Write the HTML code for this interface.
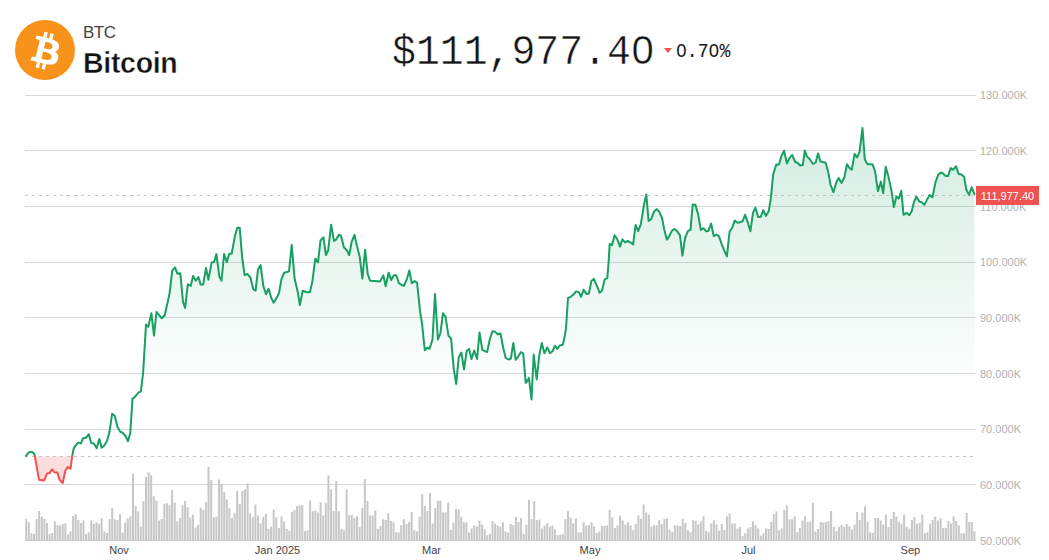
<!DOCTYPE html>
<html><head><meta charset="utf-8"><title>Bitcoin</title>
<style>
html,body{margin:0;padding:0;background:#fff;}
body{width:1049px;height:560px;position:relative;overflow:hidden;font-family:"Liberation Sans",sans-serif;}
.chart{position:absolute;left:0;top:0;}
.logo{position:absolute;left:15px;top:20px;width:60px;height:60px;}
.sym{position:absolute;left:83px;top:23px;font-size:17px;letter-spacing:-0.5px;color:#444;line-height:20px;}
.name{position:absolute;left:83px;top:46px;font-size:28.5px;font-weight:bold;color:#111;line-height:34px;letter-spacing:-0.3px;transform:scaleY(1.035);transform-origin:0 27px;-webkit-text-stroke:0.4px #fff;}
.price{position:absolute;left:392px;top:29px;font-family:"Liberation Mono",monospace;font-size:39.8px;color:#151515;line-height:46px;white-space:nowrap;-webkit-text-stroke:0.45px #fff;transform:scaleY(1.06);transform-origin:0 0;}
.tri{position:absolute;left:664px;top:48px;width:0;height:0;border-left:4px solid transparent;border-right:4px solid transparent;border-top:5.5px solid #ef5350;}
.pct{position:absolute;left:676px;top:40px;font-family:"Liberation Mono",monospace;font-size:18.1px;color:#151515;line-height:22px;white-space:nowrap;transform:scaleY(1.09);transform-origin:0 0;}
.yl{position:absolute;left:980px;font-size:11px;line-height:14px;color:#b2b2b2;white-space:nowrap;}
.xl{position:absolute;top:543px;width:80px;text-align:center;font-size:11px;line-height:14px;color:#444;white-space:nowrap;}
.m{position:absolute;background:#fff;}
.tag{position:absolute;left:976px;top:186px;width:63px;height:19px;background:#ef5350;color:#fff;font-size:11px;line-height:21px;text-align:center;overflow:hidden;}
</style></head><body>
<svg class="chart" width="1049" height="560" viewBox="0 0 1049 560">
<defs><linearGradient id="gg" gradientUnits="userSpaceOnUse" x1="0" y1="95" x2="0" y2="392"><stop offset="0" stop-color="#149c5c" stop-opacity="0.215"/><stop offset="1" stop-color="#149c5c" stop-opacity="0"/></linearGradient><linearGradient id="rg" gradientUnits="userSpaceOnUse" x1="0" y1="456" x2="0" y2="485"><stop offset="0" stop-color="#ef5350" stop-opacity="0.18"/><stop offset="1" stop-color="#ef5350" stop-opacity="0.22"/></linearGradient></defs>
<path d="M25 95.5 H976 M25 150.5 H976 M25 206.5 H976 M25 262.5 H976 M25 317.5 H976 M25 373.5 H976 M25 429.5 H976 M25 484.5 H976 M25 540.5 H976" stroke="#d8d8d8" stroke-width="1" fill="none"/>
<path d="M26.1 455.9 L28.5 452.6 L30.4 451.9 L32.5 452.3 L34.1 453.8 L34.8 456 L34.9 456.5 L34.9 456.5 L26.1 456.5 Z M72.1 456.5 L72.2 456 L73.8 448.2 L77.5 443.1 L79.1 442.6 L81 443.4 L83.1 438.2 L85.9 437.8 L88.8 434.2 L91.2 443.1 L93.9 443.4 L96.7 448.3 L99.3 439 L101.6 447.8 L104.1 445.7 L107 440.9 L109.5 431.8 L112.1 413.8 L114.8 415.7 L117.5 427 L120.2 431.8 L122.8 432.8 L125.5 436 L128 441.2 L130.3 432.8 L132.5 398.6 L134.4 397.3 L135.7 395.9 L138.4 392.7 L140.9 391.4 L143.1 372.9 L146 324.6 L148.2 326.8 L151.4 313.2 L154 335.6 L156.5 311.9 L161.8 318.3 L164.7 315.3 L169.5 293.9 L172.2 270.6 L175 267.4 L177.5 273.8 L180.3 273.3 L183 301.9 L185.1 308 L187.8 284.3 L190.7 285.9 L193.1 275.9 L195.8 280.7 L198.4 277 L200.7 284.6 L203.2 284.6 L206 267.9 L208.4 279.8 L211.6 262.6 L214 262.1 L216.4 254.1 L219.3 276.2 L221.5 280.7 L224.1 254.1 L226.8 262.1 L229.3 253.7 L231.7 253.7 L234.9 236.1 L237.3 227.7 L239.7 227.7 L242.2 258 L244.6 275.2 L247.2 273.8 L250.4 277.5 L253.2 289.1 L255.6 290.7 L258 269.5 L260.6 265 L263.3 285.9 L266 294.2 L268.6 288.8 L271.3 297.9 L273.7 302.7 L276.1 298.7 L279 293.1 L281.4 279.4 L284.2 272.7 L289 271.4 L291.7 244.9 L294.6 278.6 L297.5 290.7 L299.9 305.1 L302.7 290.7 L306.7 292.3 L309.9 292.3 L312.3 281.8 L315.3 258.6 L318 262.4 L320.5 240.5 L323.4 237.3 L325.9 255 L328.2 250.2 L331.1 224.8 L334 240.9 L336.2 239.6 L338.8 234.8 L341 235.7 L343.9 247.3 L346.8 250.2 L349.2 255 L351.6 242.2 L354.4 234.8 L357.1 246.5 L359.7 256.6 L362.4 278.6 L365.1 249.7 L367.7 273.8 L370.1 280.7 L374.8 281 L380.1 281.4 L383.3 275.4 L385.7 286.2 L388.6 272.7 L391.2 280.1 L393.8 275.3 L396.3 275.2 L398.9 283.2 L401.6 285 L403.9 285.9 L407 278.8 L409.3 270.4 L411.8 283.2 L414.6 281.1 L417.1 282.9 L420 310.9 L422.1 324.3 L424.8 350.2 L427.5 347.5 L429.6 348.8 L432.5 339.5 L435 293.9 L437.9 339.5 L440.4 333.2 L443 313.2 L445.5 316.8 L448.5 335.8 L451.1 338.6 L453.8 369.4 L456.2 383.9 L458.7 357.4 L461.4 352.6 L464 369.4 L466.7 351 L469.1 348.9 L471.5 359 L474.2 350.5 L477.1 359 L479.5 332.5 L482.3 349.8 L487.1 352.1 L489.7 339.7 L492.4 331.2 L495.1 331.7 L498 334.4 L500.4 333.3 L503.2 347.8 L505.7 357.9 L508.5 359.5 L510.9 358.5 L513.3 342.9 L515.7 359.8 L518.6 355.8 L521 352 L523.2 353.3 L525.7 382.8 L527.3 380.8 L528.9 377.9 L531.5 399.5 L533.7 354.5 L536.7 379.5 L539.2 355.7 L541.8 342.9 L544.4 353.2 L547.3 347.4 L549.9 353.2 L552.5 351.2 L555.1 345.7 L557.3 349 L559.8 345.4 L562.8 344.8 L564.8 336 L566 328 L568 298 L570.7 296.8 L573.4 294.5 L576.1 291.4 L578.8 292.1 L581.1 296.8 L583.6 289.6 L586.4 293.9 L588.9 293.6 L591.3 281.1 L593.9 278.9 L597.1 286.4 L599.6 292.7 L602 290.9 L604.6 279.6 L607.3 277.9 L608.6 262 L609.7 244 L612 245.2 L614.6 235.3 L617.3 239.3 L620 246.6 L622.4 239.3 L625.1 242.4 L627.8 241 L630.7 242.6 L633.1 244.6 L635.6 224.9 L638.2 231.2 L640.9 223.9 L643.9 205.1 L646.3 194.4 L648.6 220.9 L651.2 219.2 L653.9 211.8 L656.6 209.1 L659.3 211.8 L662 217.8 L664.2 229.2 L666.9 239.7 L669.3 235.9 L672 230.6 L674.4 229 L676.7 230.6 L680 235.4 L682.4 255.6 L685.1 238 L688 230.9 L690.5 229.9 L692.7 204.5 L695.4 204.7 L698.1 214.1 L700.8 229.9 L703.5 228.2 L706.1 231.3 L708.4 230.9 L711.1 223.5 L713.8 236.2 L716.4 234.5 L718.9 236.2 L721.5 243.6 L724.2 250.3 L726.9 256.3 L729.6 231.5 L732.3 227.5 L734.7 220.6 L737.6 222.8 L740 222.2 L742.7 221.1 L745 214.8 L747.7 222.2 L750.4 231.3 L753 212.8 L755.3 207.6 L758.2 217.1 L760.8 216.7 L763.3 210.1 L765.9 215.9 L768.7 211.3 L770.9 197.7 L773.2 174.2 L776.3 164.6 L779 164.6 L781.1 157 L784.1 150.6 L786.9 163.5 L789.6 157.9 L792.2 154.9 L795.2 162 L797.5 162.8 L800.2 165.5 L802.8 165 L804.8 150.6 L806.9 156.4 L809.6 159 L813 164 L815.7 162.5 L818 153.4 L820.6 161.6 L823 162 L825.6 162.8 L828.2 171.9 L830.6 185 L833.4 192.1 L836.3 182.5 L838.6 178 L841.6 182.9 L844.3 177.5 L847 164.3 L849.6 168.2 L851.8 169.6 L854.6 153.9 L857.1 157.5 L859.5 151.8 L862.5 128 L864.8 159.6 L867.5 164.3 L872.5 164.3 L875 170.9 L877.9 191.1 L880.9 181.6 L883.2 193.2 L885.7 166.8 L888.6 177.1 L891.6 191.4 L893.9 207.1 L896.4 196.4 L898.8 198.6 L901.3 190.8 L903.6 214.8 L906.6 212.8 L909.3 215.2 L911.8 211 L914.1 201.6 L916.3 196.6 L919.4 201.6 L921.7 202.3 L924.4 204.9 L927.1 199.6 L929.7 194.9 L932.4 197.2 L935.5 182.2 L938.2 174.8 L940.9 172.5 L943.1 173.5 L945.8 176.1 L948 176.1 L950.7 168.1 L952.9 169.8 L956 166.3 L958.7 174.1 L961.4 174.4 L964.1 176.8 L966.3 189.5 L969 194.9 L971.7 187.3 L974.4 194.2 L974.4 456.5 L72.1 456.5 Z" fill="url(#gg)"/>
<path d="M34.9 456.5 L39 479.8 L44.1 480.6 L47 473.6 L49.7 473.1 L52.1 469.4 L54.5 472.3 L57.4 472.6 L59.4 479.5 L62.6 483.2 L65.3 470.7 L67.9 467.1 L70.6 468.8 L72.1 456.5 L72.1 456.5 L34.9 456.5 Z" fill="url(#rg)"/>
<path d="M25 456.5 H974" stroke="#c4c4c4" stroke-width="1" stroke-dasharray="3 4" fill="none"/>
<path d="M25 195.5 H976" stroke="#c4c4c4" stroke-width="1" stroke-dasharray="3 4" fill="none"/>
<path d="M25.2 519.1 h2 v21.9 h-2Z M27.8 522.3 h2 v18.7 h-2Z M30.4 533.3 h2 v7.7 h-2Z M33 533.7 h2 v7.3 h-2Z M35.6 519.1 h2 v21.9 h-2Z M38.2 511.1 h2 v29.9 h-2Z M40.8 516.7 h2 v24.3 h-2Z M43.4 519.1 h2 v21.9 h-2Z M46 523.1 h2 v17.9 h-2Z M48.6 534.1 h2 v6.9 h-2Z M51.2 533.1 h2 v7.9 h-2Z M53.9 521.3 h2 v19.7 h-2Z M56.5 525.1 h2 v15.9 h-2Z M59.1 525.5 h2 v15.5 h-2Z M61.7 523.9 h2 v17.1 h-2Z M64.3 523.5 h2 v17.5 h-2Z M66.9 534.4 h2 v6.6 h-2Z M69.5 531.5 h2 v9.5 h-2Z M72.1 516.1 h2 v24.9 h-2Z M74.7 514.1 h2 v26.9 h-2Z M77.3 520 h2 v21 h-2Z M79.9 523 h2 v18 h-2Z M82.5 520.5 h2 v20.5 h-2Z M85.1 534.1 h2 v6.9 h-2Z M87.7 532.2 h2 v8.8 h-2Z M90.3 520.5 h2 v20.5 h-2Z M92.9 523.8 h2 v17.2 h-2Z M95.5 522.3 h2 v18.7 h-2Z M98.1 523.8 h2 v17.2 h-2Z M100.7 518.2 h2 v22.8 h-2Z M103.4 531.4 h2 v9.6 h-2Z M106 532.9 h2 v8.1 h-2Z M108.6 519.2 h2 v21.8 h-2Z M111.2 508.3 h2 v32.7 h-2Z M113.8 519.2 h2 v21.8 h-2Z M116.4 520 h2 v21 h-2Z M119 514.2 h2 v26.8 h-2Z M121.6 532.6 h2 v8.4 h-2Z M124.2 522.6 h2 v18.4 h-2Z M126.8 518.5 h2 v22.5 h-2Z M129.4 516.5 h2 v24.5 h-2Z M132 473.4 h2 v67.6 h-2Z M134.6 506.3 h2 v34.7 h-2Z M137.2 511.6 h2 v29.4 h-2Z M139.8 526.8 h2 v14.2 h-2Z M142.4 501.3 h2 v39.7 h-2Z M145 477 h2 v64 h-2Z M147.6 472.2 h2 v68.8 h-2Z M150.2 475.2 h2 v65.8 h-2Z M152.8 496.2 h2 v44.8 h-2Z M155.4 500.7 h2 v40.3 h-2Z M158.1 520.5 h2 v20.5 h-2Z M160.7 518.9 h2 v22.1 h-2Z M163.3 503.7 h2 v37.3 h-2Z M165.9 503.3 h2 v37.7 h-2Z M168.5 505.3 h2 v35.7 h-2Z M171.1 490.1 h2 v50.9 h-2Z M173.7 502.5 h2 v38.5 h-2Z M176.3 521.5 h2 v19.5 h-2Z M178.9 518 h2 v23 h-2Z M181.5 505.3 h2 v35.7 h-2Z M184.1 501 h2 v40 h-2Z M186.7 506.9 h2 v34.1 h-2Z M189.3 517.4 h2 v23.6 h-2Z M191.9 514.4 h2 v26.6 h-2Z M194.5 527.6 h2 v13.4 h-2Z M197.1 525 h2 v16 h-2Z M199.7 507.4 h2 v33.6 h-2Z M202.3 509.8 h2 v31.2 h-2Z M204.9 502.2 h2 v38.8 h-2Z M207.5 466.8 h2 v74.2 h-2Z M210.2 480.1 h2 v60.9 h-2Z M212.8 517.4 h2 v23.6 h-2Z M215.4 516.5 h2 v24.5 h-2Z M218 479.4 h2 v61.6 h-2Z M220.6 484 h2 v57 h-2Z M223.2 492.2 h2 v48.8 h-2Z M225.8 499.5 h2 v41.5 h-2Z M228.4 508.3 h2 v32.7 h-2Z M231 518 h2 v23 h-2Z M233.6 513.2 h2 v27.8 h-2Z M236.2 490.7 h2 v50.3 h-2Z M238.8 504.1 h2 v36.9 h-2Z M241.4 491.1 h2 v49.9 h-2Z M244 489.2 h2 v51.8 h-2Z M246.6 483.5 h2 v57.5 h-2Z M249.2 513.2 h2 v27.8 h-2Z M251.8 517.4 h2 v23.6 h-2Z M254.4 504.4 h2 v36.6 h-2Z M257 515.4 h2 v25.6 h-2Z M259.6 523.5 h2 v17.5 h-2Z M262.3 517 h2 v24 h-2Z M264.9 513.9 h2 v27.1 h-2Z M267.5 529.1 h2 v11.9 h-2Z M270.1 526.5 h2 v14.5 h-2Z M272.7 509.4 h2 v31.6 h-2Z M275.3 517.4 h2 v23.6 h-2Z M277.9 528.1 h2 v12.9 h-2Z M280.5 516.2 h2 v24.8 h-2Z M283.1 521.5 h2 v19.5 h-2Z M285.7 529.1 h2 v11.9 h-2Z M288.3 530.6 h2 v10.4 h-2Z M290.9 512 h2 v29 h-2Z M293.5 510.1 h2 v30.9 h-2Z M296.1 505.9 h2 v35.1 h-2Z M298.7 505.3 h2 v35.7 h-2Z M301.3 505.3 h2 v35.7 h-2Z M303.9 531.1 h2 v9.9 h-2Z M306.5 530.2 h2 v10.8 h-2Z M309.1 500.3 h2 v40.7 h-2Z M311.8 511.3 h2 v29.7 h-2Z M314.4 510.4 h2 v30.6 h-2Z M317 512.4 h2 v28.6 h-2Z M319.6 502.2 h2 v38.8 h-2Z M322.2 515.4 h2 v25.6 h-2Z M324.8 502.8 h2 v38.2 h-2Z M327.4 475.5 h2 v65.5 h-2Z M330 489.6 h2 v51.4 h-2Z M332.6 510.9 h2 v30.1 h-2Z M335.2 481 h2 v60 h-2Z M337.8 511.3 h2 v29.7 h-2Z M340.4 529.1 h2 v11.9 h-2Z M343 530.2 h2 v10.8 h-2Z M345.6 489.6 h2 v51.4 h-2Z M348.2 515 h2 v26 h-2Z M350.8 514.7 h2 v26.3 h-2Z M353.4 518 h2 v23 h-2Z M356 516.2 h2 v24.8 h-2Z M358.6 527.1 h2 v13.9 h-2Z M361.2 508.3 h2 v32.7 h-2Z M363.8 479 h2 v62 h-2Z M366.5 501 h2 v40 h-2Z M369.1 515.4 h2 v25.6 h-2Z M371.7 515.4 h2 v25.6 h-2Z M374.3 510.4 h2 v30.6 h-2Z M376.9 529.1 h2 v11.9 h-2Z M379.5 526.1 h2 v14.9 h-2Z M382.1 519.2 h2 v21.8 h-2Z M384.7 520 h2 v21 h-2Z M387.3 513.2 h2 v27.8 h-2Z M389.9 521.1 h2 v19.9 h-2Z M392.5 522.3 h2 v18.7 h-2Z M395.1 532.2 h2 v8.8 h-2Z M397.7 532.2 h2 v8.8 h-2Z M400.3 525 h2 v16 h-2Z M402.9 519.2 h2 v21.8 h-2Z M405.5 524.1 h2 v16.9 h-2Z M408.1 522 h2 v19 h-2Z M410.7 512 h2 v29 h-2Z M413.3 530.2 h2 v10.8 h-2Z M415.9 531.4 h2 v9.6 h-2Z M418.6 516.5 h2 v24.5 h-2Z M421.2 494.2 h2 v46.8 h-2Z M423.8 505.9 h2 v35.1 h-2Z M426.4 510.9 h2 v30.1 h-2Z M429 492.7 h2 v48.3 h-2Z M431.6 523.5 h2 v17.5 h-2Z M434.2 508.3 h2 v32.7 h-2Z M436.8 500.7 h2 v40.3 h-2Z M439.4 500.7 h2 v40.3 h-2Z M442 512.4 h2 v28.6 h-2Z M444.6 512.4 h2 v28.6 h-2Z M447.2 502.5 h2 v38.5 h-2Z M449.8 529.9 h2 v11.1 h-2Z M452.4 522.6 h2 v18.4 h-2Z M455 508.9 h2 v32.1 h-2Z M457.6 509.4 h2 v31.6 h-2Z M460.2 517 h2 v24 h-2Z M462.8 522.3 h2 v18.7 h-2Z M465.4 522.3 h2 v18.7 h-2Z M468.1 532.6 h2 v8.4 h-2Z M470.7 528.4 h2 v12.6 h-2Z M473.3 525.6 h2 v15.4 h-2Z M475.9 526.5 h2 v14.5 h-2Z M478.5 520.8 h2 v20.2 h-2Z M481.1 524.6 h2 v16.4 h-2Z M483.7 529.6 h2 v11.4 h-2Z M486.3 535.2 h2 v5.8 h-2Z M488.9 533.7 h2 v7.3 h-2Z M491.5 521.1 h2 v19.9 h-2Z M494.1 523.5 h2 v17.5 h-2Z M496.7 525.6 h2 v15.4 h-2Z M499.3 526.8 h2 v14.2 h-2Z M501.9 522 h2 v19 h-2Z M504.5 531.4 h2 v9.6 h-2Z M507.1 532.6 h2 v8.4 h-2Z M509.7 524.1 h2 v16.9 h-2Z M512.3 525 h2 v16 h-2Z M514.9 517 h2 v24 h-2Z M517.5 522 h2 v19 h-2Z M520.1 518 h2 v23 h-2Z M522.8 533.7 h2 v7.3 h-2Z M525.4 524.6 h2 v16.4 h-2Z M528 499.8 h2 v41.2 h-2Z M530.6 518.9 h2 v22.1 h-2Z M533.2 501.3 h2 v39.7 h-2Z M535.8 520 h2 v21 h-2Z M538.4 519.5 h2 v21.5 h-2Z M541 528.4 h2 v12.6 h-2Z M543.6 525.6 h2 v15.4 h-2Z M546.2 523 h2 v18 h-2Z M548.8 526.5 h2 v14.5 h-2Z M551.4 525.6 h2 v15.4 h-2Z M554 529.6 h2 v11.4 h-2Z M556.6 535.2 h2 v5.8 h-2Z M559.2 534.7 h2 v6.3 h-2Z M561.8 534.1 h2 v6.9 h-2Z M564.4 519.2 h2 v21.8 h-2Z M567 510.9 h2 v30.1 h-2Z M569.6 517.4 h2 v23.6 h-2Z M572.2 523.5 h2 v17.5 h-2Z M574.9 518.5 h2 v22.5 h-2Z M577.5 532.2 h2 v8.8 h-2Z M580.1 532.2 h2 v8.8 h-2Z M582.7 522.3 h2 v18.7 h-2Z M585.3 525.6 h2 v15.4 h-2Z M587.9 525.3 h2 v15.7 h-2Z M590.5 522.3 h2 v18.7 h-2Z M593.1 526.5 h2 v14.5 h-2Z M595.7 532.9 h2 v8.1 h-2Z M598.3 531.4 h2 v9.6 h-2Z M600.9 526.1 h2 v14.9 h-2Z M603.5 526.1 h2 v14.9 h-2Z M606.1 525.3 h2 v15.7 h-2Z M608.7 509.8 h2 v31.2 h-2Z M611.3 517.4 h2 v23.6 h-2Z M613.9 528.1 h2 v12.9 h-2Z M616.5 525.6 h2 v15.4 h-2Z M619.1 515.4 h2 v25.6 h-2Z M621.7 520.5 h2 v20.5 h-2Z M624.4 524.6 h2 v16.4 h-2Z M627 522.3 h2 v18.7 h-2Z M629.6 525.6 h2 v15.4 h-2Z M632.2 530.2 h2 v10.8 h-2Z M634.8 524.1 h2 v16.9 h-2Z M637.4 515.4 h2 v25.6 h-2Z M640 518.9 h2 v22.1 h-2Z M642.6 504.4 h2 v36.6 h-2Z M645.2 512.4 h2 v28.6 h-2Z M647.8 514.4 h2 v26.6 h-2Z M650.4 526.5 h2 v14.5 h-2Z M653 525.3 h2 v15.7 h-2Z M655.6 525.3 h2 v15.7 h-2Z M658.2 520 h2 v21 h-2Z M660.8 524.1 h2 v16.9 h-2Z M663.4 518.9 h2 v22.1 h-2Z M666 518.5 h2 v22.5 h-2Z M668.6 529.6 h2 v11.4 h-2Z M671.2 531.7 h2 v9.3 h-2Z M673.8 525.3 h2 v15.7 h-2Z M676.5 525.6 h2 v15.4 h-2Z M679.1 526.1 h2 v14.9 h-2Z M681.7 518.5 h2 v22.5 h-2Z M684.3 523 h2 v18 h-2Z M686.9 530.2 h2 v10.8 h-2Z M689.5 532.2 h2 v8.8 h-2Z M692.1 520.3 h2 v20.7 h-2Z M694.7 521.1 h2 v19.9 h-2Z M697.3 524.6 h2 v16.4 h-2Z M699.9 521.5 h2 v19.5 h-2Z M702.5 516.2 h2 v24.8 h-2Z M705.1 531.1 h2 v9.9 h-2Z M707.7 532.2 h2 v8.8 h-2Z M710.3 523.5 h2 v17.5 h-2Z M712.9 520.5 h2 v20.5 h-2Z M715.5 524.6 h2 v16.4 h-2Z M718.1 530.6 h2 v10.4 h-2Z M720.7 524.1 h2 v16.9 h-2Z M723.3 529.9 h2 v11.1 h-2Z M725.9 516.2 h2 v24.8 h-2Z M728.6 513.5 h2 v27.5 h-2Z M731.2 523.5 h2 v17.5 h-2Z M733.8 523.5 h2 v17.5 h-2Z M736.4 528.4 h2 v12.6 h-2Z M739 527.1 h2 v13.9 h-2Z M741.6 536 h2 v5 h-2Z M744.2 533.2 h2 v7.8 h-2Z M746.8 528.4 h2 v12.6 h-2Z M749.4 527.1 h2 v13.9 h-2Z M752 521.5 h2 v19.5 h-2Z M754.6 525 h2 v16 h-2Z M757.2 528.4 h2 v12.6 h-2Z M759.8 535.6 h2 v5.4 h-2Z M762.4 533.2 h2 v7.8 h-2Z M765 528.4 h2 v12.6 h-2Z M767.6 529.1 h2 v11.9 h-2Z M770.2 522 h2 v19 h-2Z M772.8 513.9 h2 v27.1 h-2Z M775.4 511.3 h2 v29.7 h-2Z M778 530.2 h2 v10.8 h-2Z M780.7 528.4 h2 v12.6 h-2Z M783.3 510.1 h2 v30.9 h-2Z M785.9 505.3 h2 v35.7 h-2Z M788.5 519.2 h2 v21.8 h-2Z M791.1 519.2 h2 v21.8 h-2Z M793.7 516.5 h2 v24.5 h-2Z M796.3 532.2 h2 v8.8 h-2Z M798.9 528.1 h2 v12.9 h-2Z M801.5 520.5 h2 v20.5 h-2Z M804.1 516.2 h2 v24.8 h-2Z M806.7 522 h2 v19 h-2Z M809.3 521.5 h2 v19.5 h-2Z M811.9 502.5 h2 v38.5 h-2Z M814.5 531.4 h2 v9.6 h-2Z M817.1 529.1 h2 v11.9 h-2Z M819.7 522 h2 v19 h-2Z M822.3 522.6 h2 v18.4 h-2Z M824.9 522 h2 v19 h-2Z M827.5 521.1 h2 v19.9 h-2Z M830.1 510.9 h2 v30.1 h-2Z M832.8 527.1 h2 v13.9 h-2Z M835.4 531.1 h2 v9.9 h-2Z M838 527.1 h2 v13.9 h-2Z M840.6 525 h2 v16 h-2Z M843.2 527.1 h2 v13.9 h-2Z M845.8 524.1 h2 v16.9 h-2Z M848.4 526.1 h2 v14.9 h-2Z M851 529.6 h2 v11.4 h-2Z M853.6 524.6 h2 v16.4 h-2Z M856.2 512 h2 v29 h-2Z M858.8 520 h2 v21 h-2Z M861.4 512.4 h2 v28.6 h-2Z M864 506.3 h2 v34.7 h-2Z M866.6 521.5 h2 v19.5 h-2Z M869.2 532.2 h2 v8.8 h-2Z M871.8 532.9 h2 v8.1 h-2Z M874.4 518 h2 v23 h-2Z M877 518 h2 v23 h-2Z M879.6 520.5 h2 v20.5 h-2Z M882.2 524.6 h2 v16.4 h-2Z M884.9 514.4 h2 v26.6 h-2Z M887.5 527.1 h2 v13.9 h-2Z M890.1 518.9 h2 v22.1 h-2Z M892.7 512 h2 v29 h-2Z M895.3 516.5 h2 v24.5 h-2Z M897.9 522 h2 v19 h-2Z M900.5 523.8 h2 v17.2 h-2Z M903.1 514.7 h2 v26.3 h-2Z M905.7 526.8 h2 v14.2 h-2Z M908.3 528.4 h2 v12.6 h-2Z M910.9 520 h2 v21 h-2Z M913.5 517 h2 v24 h-2Z M916.1 523.8 h2 v17.2 h-2Z M918.7 523 h2 v18 h-2Z M921.3 514.4 h2 v26.6 h-2Z M923.9 533.2 h2 v7.8 h-2Z M926.5 532.2 h2 v8.8 h-2Z M929.1 523.5 h2 v17.5 h-2Z M931.7 520 h2 v21 h-2Z M934.3 516.5 h2 v24.5 h-2Z M937 520.5 h2 v20.5 h-2Z M939.6 518 h2 v23 h-2Z M942.2 528.1 h2 v12.9 h-2Z M944.8 528.1 h2 v12.9 h-2Z M947.4 521.1 h2 v19.9 h-2Z M950 523.5 h2 v17.5 h-2Z M952.6 516.2 h2 v24.8 h-2Z M955.2 521.1 h2 v19.9 h-2Z M957.8 525.6 h2 v15.4 h-2Z M960.4 533.2 h2 v7.8 h-2Z M963 533.2 h2 v7.8 h-2Z M965.6 512.9 h2 v28.1 h-2Z M968.2 522 h2 v19 h-2Z M970.8 522 h2 v19 h-2Z M973.4 531.4 h2 v9.6 h-2Z" fill="#c7c7c7"/>
<path d="M26.1 455.9 L28.5 452.6 L30.4 451.9 L32.5 452.3 L34.1 453.8 L34.8 456 L34.9 456.5 M72.1 456.5 L72.2 456 L73.8 448.2 L77.5 443.1 L79.1 442.6 L81 443.4 L83.1 438.2 L85.9 437.8 L88.8 434.2 L91.2 443.1 L93.9 443.4 L96.7 448.3 L99.3 439 L101.6 447.8 L104.1 445.7 L107 440.9 L109.5 431.8 L112.1 413.8 L114.8 415.7 L117.5 427 L120.2 431.8 L122.8 432.8 L125.5 436 L128 441.2 L130.3 432.8 L132.5 398.6 L134.4 397.3 L135.7 395.9 L138.4 392.7 L140.9 391.4 L143.1 372.9 L146 324.6 L148.2 326.8 L151.4 313.2 L154 335.6 L156.5 311.9 L161.8 318.3 L164.7 315.3 L169.5 293.9 L172.2 270.6 L175 267.4 L177.5 273.8 L180.3 273.3 L183 301.9 L185.1 308 L187.8 284.3 L190.7 285.9 L193.1 275.9 L195.8 280.7 L198.4 277 L200.7 284.6 L203.2 284.6 L206 267.9 L208.4 279.8 L211.6 262.6 L214 262.1 L216.4 254.1 L219.3 276.2 L221.5 280.7 L224.1 254.1 L226.8 262.1 L229.3 253.7 L231.7 253.7 L234.9 236.1 L237.3 227.7 L239.7 227.7 L242.2 258 L244.6 275.2 L247.2 273.8 L250.4 277.5 L253.2 289.1 L255.6 290.7 L258 269.5 L260.6 265 L263.3 285.9 L266 294.2 L268.6 288.8 L271.3 297.9 L273.7 302.7 L276.1 298.7 L279 293.1 L281.4 279.4 L284.2 272.7 L289 271.4 L291.7 244.9 L294.6 278.6 L297.5 290.7 L299.9 305.1 L302.7 290.7 L306.7 292.3 L309.9 292.3 L312.3 281.8 L315.3 258.6 L318 262.4 L320.5 240.5 L323.4 237.3 L325.9 255 L328.2 250.2 L331.1 224.8 L334 240.9 L336.2 239.6 L338.8 234.8 L341 235.7 L343.9 247.3 L346.8 250.2 L349.2 255 L351.6 242.2 L354.4 234.8 L357.1 246.5 L359.7 256.6 L362.4 278.6 L365.1 249.7 L367.7 273.8 L370.1 280.7 L374.8 281 L380.1 281.4 L383.3 275.4 L385.7 286.2 L388.6 272.7 L391.2 280.1 L393.8 275.3 L396.3 275.2 L398.9 283.2 L401.6 285 L403.9 285.9 L407 278.8 L409.3 270.4 L411.8 283.2 L414.6 281.1 L417.1 282.9 L420 310.9 L422.1 324.3 L424.8 350.2 L427.5 347.5 L429.6 348.8 L432.5 339.5 L435 293.9 L437.9 339.5 L440.4 333.2 L443 313.2 L445.5 316.8 L448.5 335.8 L451.1 338.6 L453.8 369.4 L456.2 383.9 L458.7 357.4 L461.4 352.6 L464 369.4 L466.7 351 L469.1 348.9 L471.5 359 L474.2 350.5 L477.1 359 L479.5 332.5 L482.3 349.8 L487.1 352.1 L489.7 339.7 L492.4 331.2 L495.1 331.7 L498 334.4 L500.4 333.3 L503.2 347.8 L505.7 357.9 L508.5 359.5 L510.9 358.5 L513.3 342.9 L515.7 359.8 L518.6 355.8 L521 352 L523.2 353.3 L525.7 382.8 L527.3 380.8 L528.9 377.9 L531.5 399.5 L533.7 354.5 L536.7 379.5 L539.2 355.7 L541.8 342.9 L544.4 353.2 L547.3 347.4 L549.9 353.2 L552.5 351.2 L555.1 345.7 L557.3 349 L559.8 345.4 L562.8 344.8 L564.8 336 L566 328 L568 298 L570.7 296.8 L573.4 294.5 L576.1 291.4 L578.8 292.1 L581.1 296.8 L583.6 289.6 L586.4 293.9 L588.9 293.6 L591.3 281.1 L593.9 278.9 L597.1 286.4 L599.6 292.7 L602 290.9 L604.6 279.6 L607.3 277.9 L608.6 262 L609.7 244 L612 245.2 L614.6 235.3 L617.3 239.3 L620 246.6 L622.4 239.3 L625.1 242.4 L627.8 241 L630.7 242.6 L633.1 244.6 L635.6 224.9 L638.2 231.2 L640.9 223.9 L643.9 205.1 L646.3 194.4 L648.6 220.9 L651.2 219.2 L653.9 211.8 L656.6 209.1 L659.3 211.8 L662 217.8 L664.2 229.2 L666.9 239.7 L669.3 235.9 L672 230.6 L674.4 229 L676.7 230.6 L680 235.4 L682.4 255.6 L685.1 238 L688 230.9 L690.5 229.9 L692.7 204.5 L695.4 204.7 L698.1 214.1 L700.8 229.9 L703.5 228.2 L706.1 231.3 L708.4 230.9 L711.1 223.5 L713.8 236.2 L716.4 234.5 L718.9 236.2 L721.5 243.6 L724.2 250.3 L726.9 256.3 L729.6 231.5 L732.3 227.5 L734.7 220.6 L737.6 222.8 L740 222.2 L742.7 221.1 L745 214.8 L747.7 222.2 L750.4 231.3 L753 212.8 L755.3 207.6 L758.2 217.1 L760.8 216.7 L763.3 210.1 L765.9 215.9 L768.7 211.3 L770.9 197.7 L773.2 174.2 L776.3 164.6 L779 164.6 L781.1 157 L784.1 150.6 L786.9 163.5 L789.6 157.9 L792.2 154.9 L795.2 162 L797.5 162.8 L800.2 165.5 L802.8 165 L804.8 150.6 L806.9 156.4 L809.6 159 L813 164 L815.7 162.5 L818 153.4 L820.6 161.6 L823 162 L825.6 162.8 L828.2 171.9 L830.6 185 L833.4 192.1 L836.3 182.5 L838.6 178 L841.6 182.9 L844.3 177.5 L847 164.3 L849.6 168.2 L851.8 169.6 L854.6 153.9 L857.1 157.5 L859.5 151.8 L862.5 128 L864.8 159.6 L867.5 164.3 L872.5 164.3 L875 170.9 L877.9 191.1 L880.9 181.6 L883.2 193.2 L885.7 166.8 L888.6 177.1 L891.6 191.4 L893.9 207.1 L896.4 196.4 L898.8 198.6 L901.3 190.8 L903.6 214.8 L906.6 212.8 L909.3 215.2 L911.8 211 L914.1 201.6 L916.3 196.6 L919.4 201.6 L921.7 202.3 L924.4 204.9 L927.1 199.6 L929.7 194.9 L932.4 197.2 L935.5 182.2 L938.2 174.8 L940.9 172.5 L943.1 173.5 L945.8 176.1 L948 176.1 L950.7 168.1 L952.9 169.8 L956 166.3 L958.7 174.1 L961.4 174.4 L964.1 176.8 L966.3 189.5 L969 194.9 L971.7 187.3 L974.4 194.2" stroke="#17a062" stroke-width="2" fill="none" stroke-linejoin="round" stroke-linecap="round"/>
<path d="M34.9 456.5 L39 479.8 L44.1 480.6 L47 473.6 L49.7 473.1 L52.1 469.4 L54.5 472.3 L57.4 472.6 L59.4 479.5 L62.6 483.2 L65.3 470.7 L67.9 467.1 L70.6 468.8 L72.1 456.5" stroke="#ef5350" stroke-width="2" fill="none" stroke-linejoin="round" stroke-linecap="round"/>
</svg>
<svg class="logo" viewBox="0 0 64 64"><circle cx="32" cy="32" r="32" fill="#f7931a"/><path fill="#fff" transform="translate(0.8 1.3)" d="M46.11 27.441c.636-4.258-2.606-6.547-7.039-8.074l1.438-5.768-3.512-.875-1.4 5.616c-.922-.23-1.87-.447-2.812-.662l1.41-5.653-3.509-.875-1.439 5.766c-.764-.174-1.514-.346-2.242-.527l.004-.018-4.842-1.209-.934 3.75s2.605.597 2.55.634c1.422.355 1.679 1.296 1.636 2.042l-1.638 6.571c.098.025.225.061.365.117l-.37-.092-2.297 9.205c-.174.432-.615 1.08-1.609.834.035.051-2.552-.637-2.552-.637l-1.743 4.02 4.57 1.139c.85.213 1.683.436 2.502.646l-1.453 5.835 3.507.875 1.44-5.772c.957.26 1.887.5 2.797.726l-1.434 5.745 3.511.875 1.453-5.823c5.987 1.133 10.490.676 12.384-4.739 1.527-4.36-.076-6.875-3.226-8.515 2.294-.529 4.022-2.038 4.483-5.155zM38.086 38.69c-1.085 4.36-8.426 2.003-10.806 1.412l1.928-7.729c2.38.594 10.012 1.77 8.878 6.317zm1.086-11.312c-.99 3.966-7.1 1.951-9.082 1.457l1.748-7.01c1.982.494 8.365 1.416 7.334 5.553z"/></svg>
<div class="sym">BTC</div>
<div class="name">Bitcoin</div>
<div class="price">$111,977.40</div>
<div class="tri"></div>
<div class="pct">0.70%</div>
<div class="yl" style="top:88px">130.000K</div>
<div class="yl" style="top:144px">120.000K</div>
<div class="yl" style="top:200px">110.000K</div>
<div class="yl" style="top:255px">100.000K</div>
<div class="yl" style="top:311px">90.000K</div>
<div class="yl" style="top:367px">80.000K</div>
<div class="yl" style="top:422px">70.000K</div>
<div class="yl" style="top:478px">60.000K</div>
<div class="yl" style="top:534px">50.000K</div>
<div class="xl" style="left:79px">Nov</div>
<div class="xl" style="left:237.5px">Jan 2025</div>
<div class="xl" style="left:391.5px">Mar</div>
<div class="xl" style="left:550px">May</div>
<div class="xl" style="left:708.5px">Jul</div>
<div class="xl" style="left:870.4px">Sep</div>
<div class="m" style="left:639px;top:45px;width:8px;height:8px"></div>
<div class="m" style="left:679.7px;top:48px;width:3.5px;height:4.5px"></div>
<div class="m" style="left:712.4px;top:48px;width:3.5px;height:4.5px"></div>
<div class="tag">111,977.40</div>
</body></html>
